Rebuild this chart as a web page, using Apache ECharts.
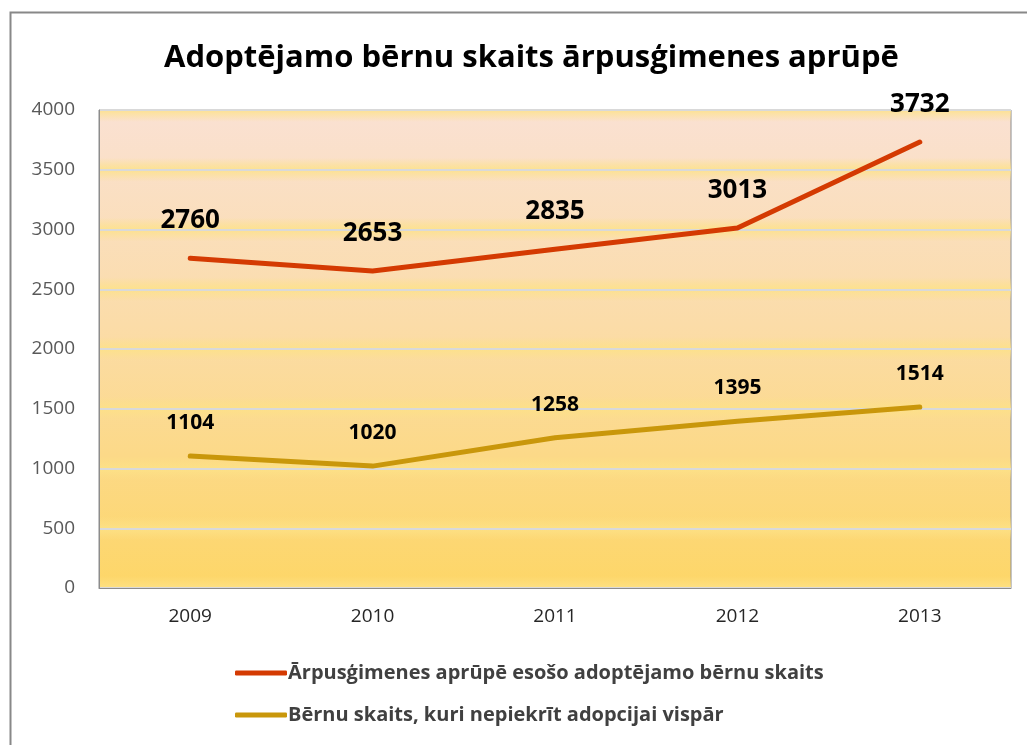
<!DOCTYPE html>
<html>
<head>
<meta charset="utf-8">
<script src="https://cdn.jsdelivr.net/npm/echarts@6/dist/echarts.min.js"></script>
<style>
  html, body { margin: 0; padding: 0; background: #fff; }
  #chart { width: 1027px; height: 745px; }
</style>
</head>
<body>
<div id="chart"></div>
<script>
const years = ['2009', '2010', '2011', '2012', '2013'];
const outsideCare = [2760, 2653, 2835, 3013, 3732];
const refuseAdoption = [1104, 1020, 1258, 1395, 1514];
const seriesNames = [
  'Ārpusģimenes aprūpē esošo adoptējamo bērnu skaits',
  'Bērnu skaits, kuri nepiekrīt adopcijai vispār'
];

window.addEventListener('load', function() {
  const myChart = echarts.init(document.getElementById('chart'));

  // soft yellow glow at the top and bottom of every band between split lines
  const glow = new echarts.graphic.LinearGradient(0, 0, 0, 1, [
    { offset: 0, color: 'rgba(253, 226, 135, 0.85)' },
    { offset: 0.2, color: 'rgba(253, 226, 135, 0)' },
    { offset: 0.8, color: 'rgba(253, 226, 135, 0)' },
    { offset: 1, color: 'rgba(253, 226, 135, 0.85)' }
  ]);

  const option = {
    backgroundColor: '#fff',
    title: {
      text: 'Adoptējamo bērnu skaits ārpusģimenes aprūpē',
      left: 159,
      top: 38,
      textStyle: {
        fontFamily: 'Open Sans',
        fontSize: 31,
        fontWeight: 'bold',
        color: '#000'
      }
    },
    graphic: [
      {
        type: 'rect',
        shape: { x: 10.5, y: 12.5, width: 1040, height: 760 },
        style: { fill: 'none', stroke: '#888', lineWidth: 2 },
        silent: true
      }
    ],
    legend: {
      orient: 'vertical',
      left: 230,
      top: 658,
      itemGap: 22,
      itemWidth: 52,
      itemHeight: 5,
      icon: 'roundRect',
      data: seriesNames,
      textStyle: {
        fontFamily: 'Open Sans',
        fontSize: 20,
        fontWeight: 'bold',
        color: '#404040',
        padding: [0, 0, 0, -4]
      }
    },
    grid: {
      left: 99,
      right: 16,
      top: 110,
      bottom: 157,
      show: true,
      borderColor: '#8c8c8c',
      borderWidth: 1,
      backgroundColor: new echarts.graphic.LinearGradient(0, 0, 0, 1, [
        { offset: 0, color: '#fae1d3' },
        { offset: 0.45, color: '#fbdca8' },
        { offset: 1, color: '#fdd667' }
      ])
    },
    xAxis: {
      type: 'category',
      data: years,
      boundaryGap: true,
      axisLine: { lineStyle: { color: '#8c8c8c' } },
      axisTick: { show: false },
      axisLabel: {
        margin: 19,
        fontFamily: 'Open Sans',
        fontSize: 19,
        color: '#262626'
      }
    },
    yAxis: {
      type: 'value',
      min: 0,
      max: 4000,
      interval: 500,
      axisLine: { show: true, lineStyle: { color: '#8c8c8c' } },
      axisTick: { show: false },
      axisLabel: {
        margin: 24,
        fontFamily: 'Open Sans',
        fontSize: 19,
        color: '#595959',
        formatter: function(v) { return String(v); }
      },
      splitLine: {
        lineStyle: { color: '#d9d9d9', width: 2 }
      },
      splitArea: {
        show: true,
        areaStyle: { color: [glow] }
      }
    },
    series: [
      {
        name: seriesNames[0],
        type: 'line',
        data: outsideCare,
        symbol: 'circle',
        symbolSize: 1,
        lineStyle: { color: '#d43a02', width: 5, cap: 'round', join: 'round' },
        itemStyle: { color: '#d43a02' },
        label: {
          show: true,
          position: 'top',
          distance: 24,
          fontFamily: 'Open Sans',
          fontSize: 26,
          fontWeight: 'bold',
          color: '#000'
        }
      },
      {
        name: seriesNames[1],
        type: 'line',
        data: refuseAdoption,
        symbol: 'circle',
        symbolSize: 1,
        lineStyle: { color: '#c9970b', width: 5, cap: 'round', join: 'round' },
        itemStyle: { color: '#c9970b' },
        label: {
          show: true,
          position: 'top',
          distance: 22,
          fontFamily: 'Open Sans',
          fontSize: 21,
          fontWeight: 'bold',
          color: '#000'
        }
      }
    ]
  };

  myChart.setOption(option);

  window.addEventListener('resize', function() {
    myChart.resize();
  });
});
</script>
</body>
</html>
